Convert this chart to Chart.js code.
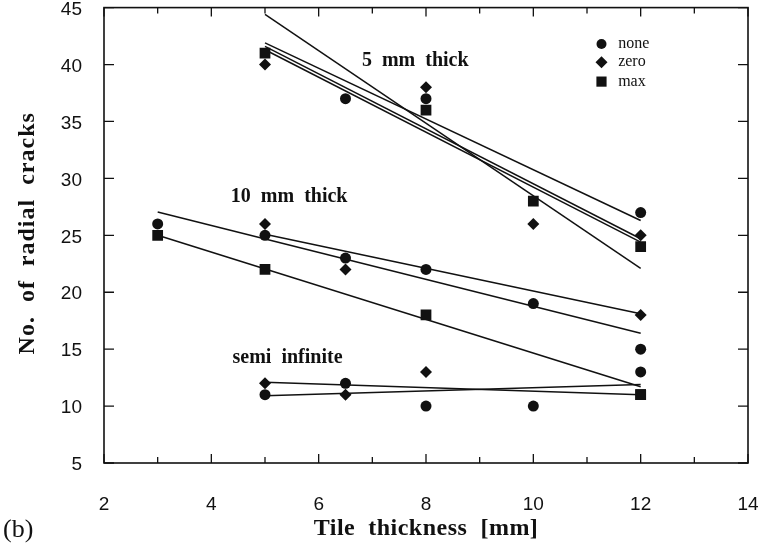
<!DOCTYPE html>
<html>
<head>
<meta charset="utf-8">
<script src="https://cdn.jsdelivr.net/npm/chart.js@4.4.1/dist/chart.umd.min.js"></script>
<style>
  html, body { margin: 0; padding: 0; background: #fff; }
</style>
</head>
<body>
<canvas id="cracks" width="765" height="548"></canvas>
<script>
// axis ticks
const xTickLabels = [2, 4, 6, 8, 10, 12, 14];
const xMinorTicks = [3, 5, 7, 9, 11, 13];
const yTickLabels = [5, 10, 15, 20, 25, 30, 35, 40, 45];

// measured points [thickness, cracks]
// 5 mm thick
const t5None = [[6.5, 37], [8, 37], [12, 27]];
const t5Zero = [[5, 40], [8, 38], [10, 26], [12, 25]];
const t5Max  = [[5, 41], [8, 36], [10, 28], [12, 24]];
// 10 mm thick
const t10None = [[3, 26], [5, 25], [6.5, 23], [8, 22], [10, 19], [12, 15]];
const t10Zero = [[5, 26], [6.5, 22], [12, 18]];
const t10Max  = [[3, 25], [5, 22], [8, 18], [12, 11]];
// semi infinite
const semiNone = [[5, 11], [6.5, 12], [8, 10], [10, 10], [12, 13]];
const semiZero = [[5, 12], [6.5, 11], [8, 13]];
const semiMax  = [[12, 11]];

// fitted lines [x0, y0, x1, y1]
const fit5 = [
    [5, 41.9, 12, 26.3],
    [5, 41.6, 12, 24.7],
    [5, 41.3, 12, 24.4],
    [5, 44.4, 12, 22.1],
];
const fit10 = [
    [3, 27.05, 12, 16.4],
    [5, 25.1, 12, 18.1],
    [3, 25.0, 12, 11.7],
];
const fitSemi = [
    [5, 12.1, 12, 11.0],
    [5, 10.9, 12, 11.9],
];

// annotation text and positions (data units)
const groupLabels = [
    { text: '5  mm  thick', x: 7.8, y: 40.3 },
    { text: '10  mm  thick', x: 5.45, y: 28.4 },
    { text: 'semi  infinite', x: 5.42, y: 14.25 },
];
const legendItems = [
    { text: 'none', style: 'circle', y: 41.8 },
    { text: 'zero', style: 'rectRot', y: 40.2 },
    { text: 'max',  style: 'rect', y: 38.5 },
];

const toXY = pts => pts.map(p => ({ x: p[0], y: p[1] }));

const SERIF = "'Liberation Serif', 'Times New Roman', serif";
const SANS = "'Liberation Sans', Arial, sans-serif";
const INK = '#111';

const MARK = {
    circle:  { pointStyle: 'circle',  pointRadius: 5.5 },
    rectRot: { pointStyle: 'rectRot', pointRadius: 6 },
    rect:    { pointStyle: 'rect',    pointRadius: 7.6 },
};

function markerSet(label, pts, style) {
    return {
        label,
        data: toXY(pts),
        showLine: false,
        pointStyle: MARK[style].pointStyle,
        pointRadius: MARK[style].pointRadius,
        pointBorderWidth: 0,
        pointBackgroundColor: INK,
        pointBorderColor: INK,
    };
}

function lineSet(seg) {
    return {
        label: 'fit',
        data: [{ x: seg[0], y: seg[1] }, { x: seg[2], y: seg[3] }],
        showLine: true,
        borderColor: INK,
        borderWidth: 1.5,
        pointRadius: 0,
        fill: false,
    };
}

const datasets = [
    markerSet('none', [...t5None, ...t10None, ...semiNone], 'circle'),
    markerSet('zero', [...t5Zero, ...t10Zero, ...semiZero], 'rectRot'),
    markerSet('max',  [...t5Max, ...t10Max, ...semiMax], 'rect'),
    ...[...fit5, ...fit10, ...fitSemi].map(lineSet),
];

function drawMarker(ctx, style, x, y, r) {
    ctx.beginPath();
    if (style === 'circle') {
        ctx.arc(x, y, r, 0, Math.PI * 2);
    } else if (style === 'rectRot') {
        ctx.moveTo(x, y - r);
        ctx.lineTo(x + r, y);
        ctx.lineTo(x, y + r);
        ctx.lineTo(x - r, y);
        ctx.closePath();
    } else {
        const h = r * Math.SQRT1_2;
        ctx.rect(x - h, y - h, 2 * h, 2 * h);
    }
    ctx.fill();
}

// frame, inward ticks, tick labels, titles and annotations
const overlay = {
    id: 'overlay',
    afterDatasetsDraw(chart) {
        const { ctx, chartArea: a, scales: { x, y } } = chart;
        ctx.save();
        ctx.strokeStyle = INK;
        ctx.fillStyle = INK;
        ctx.lineWidth = 1.6;
        ctx.strokeRect(a.left, a.top, a.right - a.left, a.bottom - a.top);

        ctx.lineWidth = 1.3;
        ctx.beginPath();
        const xTick = (v, len) => {
            const px = x.getPixelForValue(v);
            ctx.moveTo(px, a.bottom); ctx.lineTo(px, a.bottom - len);
            ctx.moveTo(px, a.top); ctx.lineTo(px, a.top + len);
        };
        xTickLabels.forEach(v => xTick(v, 9));
        xMinorTicks.forEach(v => xTick(v, 6));
        yTickLabels.forEach(v => {
            const py = y.getPixelForValue(v);
            ctx.moveTo(a.left, py); ctx.lineTo(a.left + 10, py);
            ctx.moveTo(a.right, py); ctx.lineTo(a.right - 10, py);
        });
        ctx.stroke();

        // tick labels
        ctx.font = `19px ${SANS}`;
        ctx.textBaseline = 'middle';
        ctx.textAlign = 'center';
        xTickLabels.forEach(v => ctx.fillText(String(v), x.getPixelForValue(v), 505));
        ctx.textAlign = 'right';
        yTickLabels.forEach(v => ctx.fillText(String(v), a.left - 22, y.getPixelForValue(v) + 2));

        // axis titles
        ctx.font = `bold 24px ${SERIF}`;
        ctx.textAlign = 'center';
        ctx.letterSpacing = '0.5px';
        ctx.fillText('Tile  thickness  [mm]', 426, 529);
        ctx.save();
        ctx.translate(28, (a.top + a.bottom) / 2 - 2);
        ctx.rotate(-Math.PI / 2);
        ctx.letterSpacing = '1px';
        ctx.fillText('No.  of  radial  cracks', 0, 0);
        ctx.restore();
        ctx.letterSpacing = '0px';

        ctx.font = `26px ${SERIF}`;
        ctx.textAlign = 'left';
        ctx.fillText('(b)', 3, 530);

        // group annotations
        ctx.font = `bold 20px ${SERIF}`;
        ctx.textAlign = 'center';
        groupLabels.forEach(g => ctx.fillText(g.text, x.getPixelForValue(g.x), y.getPixelForValue(g.y)));

        // legend
        ctx.font = `16px ${SERIF}`;
        ctx.textAlign = 'left';
        const mx = x.getPixelForValue(11.27);
        const tx = x.getPixelForValue(11.58);
        legendItems.forEach(it => {
            const py = y.getPixelForValue(it.y);
            const r = it.style === 'rect' ? 7.2 : (it.style === 'rectRot' ? 6 : 5);
            drawMarker(ctx, it.style, mx, py, r);
            ctx.fillText(it.text, tx, py);
        });
        ctx.restore();
    },
};

new Chart(document.getElementById('cracks'), {
    type: 'scatter',
    data: { datasets },
    options: {
        responsive: false,
        animation: false,
        devicePixelRatio: 1,
        layout: { padding: { left: 104, right: 17, top: 5, bottom: 85 } },
        plugins: {
            legend: { display: false },
            tooltip: { enabled: false },
        },
        scales: {
            x: { type: 'linear', min: 2, max: 14, display: false },
            y: { type: 'linear', min: 5, max: 45, display: false },
        },
    },
    plugins: [overlay],
});
</script>
</body>
</html>
